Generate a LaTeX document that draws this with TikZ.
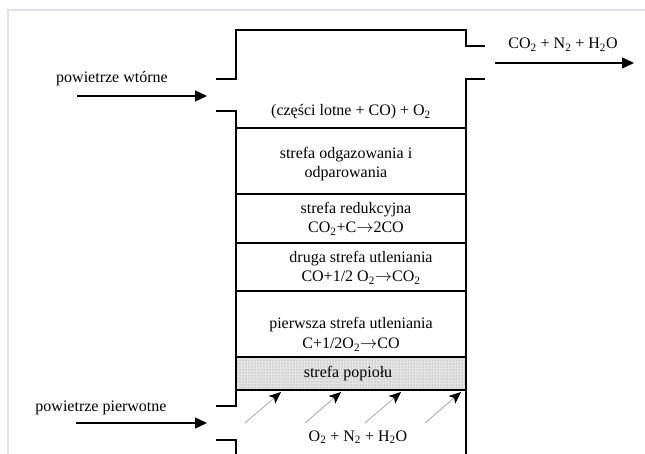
\documentclass[tikz,border=0pt]{standalone}
\usepackage{fontspec}
\setmainfont{Liberation Serif}
\usetikzlibrary{arrows.meta,patterns}
\definecolor{framecol}{HTML}{DDE3F1}
\begin{document}
\begin{tikzpicture}[x=1pt,y=-1pt,
  framel/.style={draw=framecol,line width=1.8pt},
  wall/.style={line width=2.4pt},
  zone/.style={line width=1.4pt},
  lbl/.style={font=\fontsize{16}{19}\selectfont, align=center, inner sep=0pt},
  flow/.style={line width=1.4pt, -{Triangle[length=12pt,width=11pt]}},
  jet/.style={draw=gray!70, line width=0.8pt, -{Stealth[length=12pt,width=10pt,inset=3pt,black]}}
]
\useasboundingbox (0,0) rectangle (645,454);
\draw[framel] (8,454) -- (8,10) -- (645,10);

% ash zone fill
\fill[gray!22] (236,357) rectangle (466,390);
\fill[pattern=dots, pattern color=gray!90] (236,357) rectangle (466,390);

% walls
\draw[wall] (216,79) -- (236,79) -- (236,30) -- (466,30) -- (466,46) -- (485,46);
\draw[wall] (485,79) -- (466,79) -- (466,454);
\draw[wall] (216,111) -- (236,111) -- (236,406) -- (216,406);
\draw[wall] (216,440) -- (236,440) -- (236,454);

% zone lines
\foreach \yy in {128,194,243,291,357} \draw[zone] (236,\yy) -- (466,\yy);
\draw[line width=2.8pt] (236,390) -- (466,390);

% texts
\node[lbl] (vol) at (351,112) {(części lotne + CO) + O\textsubscript{2}};
\node[lbl] (odg) at (346,164) {strefa odgazowania i\\odparowania};
\node[lbl] (red) at (356,219) {strefa redukcyjna\\CO\textsubscript{2}+C$\rightarrow$2CO};
\node[lbl] (ut2) at (361,268) {druga strefa utleniania\\CO+1/2 O\textsubscript{2}$\rightarrow$CO\textsubscript{2}};
\node[lbl] (ut1) at (351,334) {pierwsza strefa utleniania\\[1.5pt]C+1/2O\textsubscript{2}$\rightarrow$CO};
\node[lbl] (ash) at (348,374) {strefa popiołu};
\node[lbl] (inl) at (358,437) {O\textsubscript{2} + N\textsubscript{2} + H\textsubscript{2}O};
\node[lbl] (sec) at (112,79) {powietrze wtórne};
\node[lbl] (pri) at (101,408) {powietrze pierwotne};
\node[lbl] (out) at (563,45) {CO\textsubscript{2} + N\textsubscript{2} + H\textsubscript{2}O};

% arrows
\coordinate (secA) at (77,96);  \coordinate (secB) at (207,96);
\coordinate (priA) at (76,423); \coordinate (priB) at (207,423);
\coordinate (outA) at (495,63); \coordinate (outB) at (634,63);
\draw[flow] (secA) -- (secB);
\draw[flow] (priA) -- (priB);
\draw[flow] (outA) -- (outB);

\foreach \k in {0,1,2,3} {
  \coordinate (j\k a) at (245+60*\k,423);
  \coordinate (j\k b) at (281+60*\k,392);
  \draw[jet] (j\k a) -- (j\k b);
}
\end{tikzpicture}
\end{document}
